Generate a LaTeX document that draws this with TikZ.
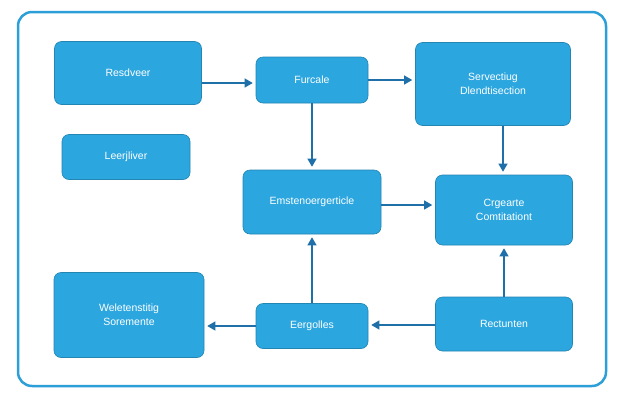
\documentclass[tikz,border=0pt]{standalone}
\usepackage{fontspec}
\setmainfont{Liberation Sans}
\usetikzlibrary{arrows.meta}
\definecolor{boxc}{HTML}{2CA6DF}
\definecolor{arr}{HTML}{1F6FA8}
\definecolor{frm}{HTML}{2D9FD8}
\begin{document}
\begin{tikzpicture}[x=1pt,y=-1pt,
  box/.style={draw=boxc!80!black,line width=0.6pt,fill=boxc,rounded corners=7pt,text=white,font=\fontsize{10.5}{14}\selectfont,align=center,inner sep=0pt},
  ar/.style={draw=arr,line width=1.1pt,shorten >=3pt,-{Triangle[length=8pt,width=9pt]}}]
\useasboundingbox (0,0) rectangle (625,400);
\fill[white] (0,0) rectangle (625,400);
\draw[frm,line width=2.5pt,rounded corners=14pt] (18,12) rectangle (606,386);
\node[box,minimum width=147,minimum height=63] (a) at (128,73) {Resdveer};
\node[box,minimum width=112,minimum height=46] (b) at (312,80) {Furcale};
\node[box,minimum width=155,minimum height=83] (c) at (493,84) {Servectiug\\Dlendtisection};
\node[box,minimum width=128,minimum height=45] (d) at (126,157) {Leerjliver};
\node[box,minimum width=138,minimum height=64] (e) at (312,202) {Emstenoergerticle};
\node[box,minimum width=137,minimum height=70] (f) at (504,210) {Crgearte\\Comtitationt};
\node[box,minimum width=150,minimum height=85] (g) at (129,315) {Weletenstitig\\Soremente};
\node[box,minimum width=112,minimum height=45] (h) at (312,326) {Eergolles};
\node[box,minimum width=137,minimum height=54] (i) at (504,324) {Rectunten};
\draw[ar] (a.east|-0,83) -- (b.west|-0,83);
\draw[ar] (b.east) -- (c.west|-b.east);
\draw[ar] (b) -- (e);
\draw[ar] (c.south-|503,0) -- (f.north-|503,0);
\draw[ar] (e.east|-0,205) -- (f.west|-0,205);
\draw[ar] (h) -- (e);
\draw[ar] (i) -- (f);
\draw[ar] (i.west|-0,325) -- (h.east|-0,325);
\draw[ar] (h.west) -- (g.east|-h.west);
\end{tikzpicture}
\end{document}
